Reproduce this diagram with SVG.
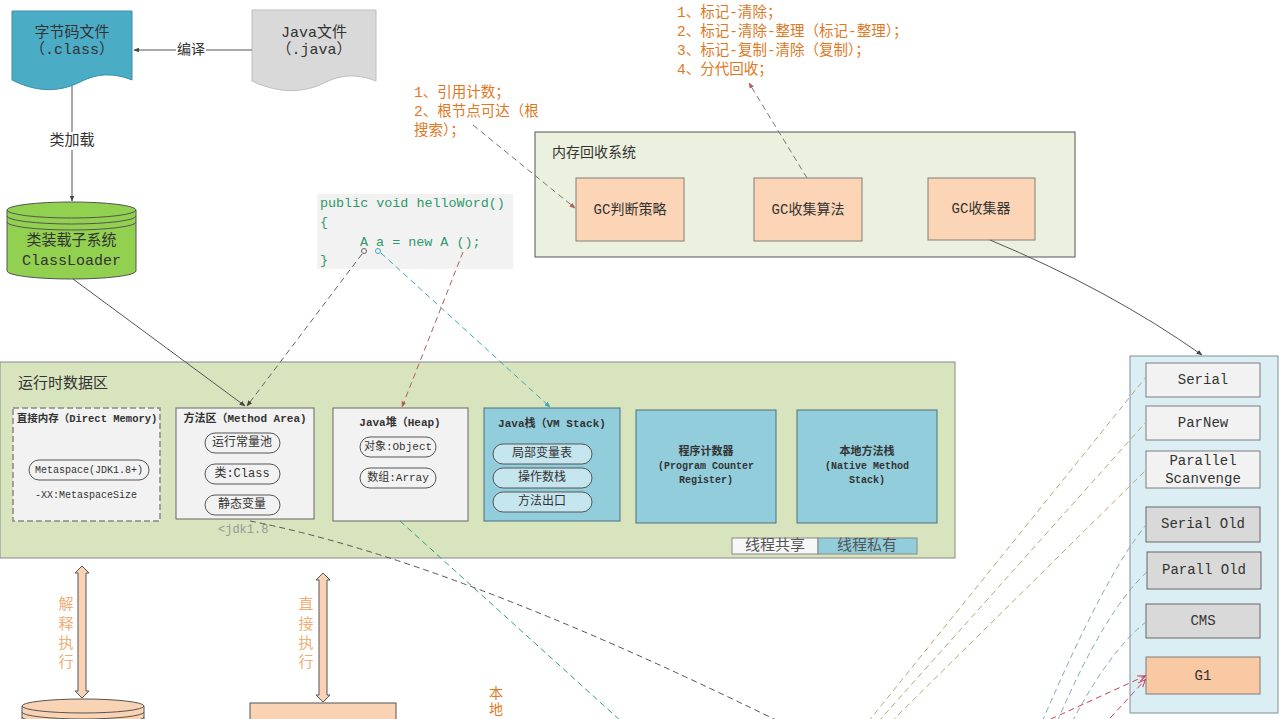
<svg xmlns="http://www.w3.org/2000/svg" width="1280" height="719" viewBox="0 0 1280 719">
<defs>
<style>
text{font-family:"Liberation Mono","Noto Sans CJK SC",monospace;fill:#333;dominant-baseline:central;text-anchor:middle;font-size:14px}
.l{text-anchor:start}
.o{fill:#e0781e;font-size:14.5px}
.lo{fill:#efad78;font-size:15px}
.b{font-weight:bold}
.s11{font-size:11px}
.s10{font-size:10px}
.s12{font-size:12px}
.code{fill:#2e9a6a;font-size:13.4px}
.line{fill:none;stroke:#555;stroke-width:1}
.dash{fill:none;stroke-width:1;stroke-dasharray:6 4}
.pill{fill:#f2f2f2;stroke:#555;stroke-width:1}
.bpill{fill:#c6e6ef;stroke:#555;stroke-width:1}
.gc{fill:#fbd5b5;stroke:#7f7f7f}
.box{fill:#f2f2f2;stroke:#666}
.blue{fill:#92cddc;stroke:#4f6f7f}
.col1{fill:#f2f2f2;stroke:#7f7f7f}
.col2{fill:#d9d9d9;stroke:#666}
.col3{fill:#f8c9a3;stroke:#7f7f7f}
.peach{fill:#f9d3b3;stroke:#555}
</style>
<marker id="ad" viewBox="0 0 10 10" refX="9" refY="5" markerWidth="6" markerHeight="6" orient="auto"><path d="M0,1 L10,5 L0,9 z" fill="#444"/></marker>
<marker id="at" viewBox="0 0 10 10" refX="9" refY="5" markerWidth="6" markerHeight="6" orient="auto"><path d="M0,1 L10,5 L0,9 z" fill="#3aa6c0"/></marker>
<marker id="ar" viewBox="0 0 10 10" refX="9" refY="5" markerWidth="6" markerHeight="6" orient="auto"><path d="M0,1 L10,5 L0,9 z" fill="#b0605a"/></marker>
<marker id="arr" viewBox="0 0 10 10" refX="9" refY="5" markerWidth="8" markerHeight="8" orient="auto"><path d="M0,1 L10,5 L0,9" fill="none" stroke="#c8405a" stroke-width="1.2"/></marker>
</defs>
<rect width="1280" height="719" fill="#ffffff"/>

<g id="class-file">
<path d="M12,11 H132 V80 C112,72 96,74 80,82 C62,91 40,94 12,80 Z" fill="#4bacc6" stroke="#3a8fa8"/>
<text x="72" y="33" style="font-size:15px">字节码文件</text>
<text x="72" y="50" style="font-size:15px">（.class）</text>
</g>

<g id="java-file">
<path d="M252,10 H376 V81 C356,73 340,75 324,83 C306,92 282,95 252,81 Z" fill="#d9d9d9" stroke="#bfbfbf"/>
<text x="314" y="33" style="font-size:15px">Java文件</text>
<text x="314" y="50" style="font-size:15px">（.java）</text>
</g>

<g id="classloader">
<path d="M7,210 V271 A64.5,8 0 0 0 136,271 V210" fill="#92d050" stroke="#555"/>
<ellipse cx="71.5" cy="210" rx="64.5" ry="8" fill="#92d050" stroke="#555"/>
<path d="M7,216 A64.5,8 0 0 0 136,216 M7,222 A64.5,8 0 0 0 136,222" fill="none" stroke="#555"/>
<text x="71.5" y="241" style="font-size:15px">类装载子系统</text>
<text x="71.5" y="261" style="font-size:15px">ClassLoader</text>
</g>

<g id="code">
<rect x="317" y="194" width="196" height="75" fill="#f2f2f2"/>
<text class="code l" x="320" y="203">public void helloWord()</text>
<text class="code l" x="320" y="222">{</text>
<text class="code l" x="360" y="242">A a = new A ();</text>
<text class="code l" x="320" y="260">}</text>
</g>

<g id="notes-judge">
<text class="o l" x="414" y="93">1、引用计数；</text>
<text class="o l" x="414" y="112">2、根节点可达（根</text>
<text class="o l" x="414" y="131">搜索）；</text>
</g>

<g id="notes-algo">
<text class="o l" x="677" y="13">1、标记-清除；</text>
<text class="o l" x="677" y="32">2、标记-清除-整理（标记-整理）；</text>
<text class="o l" x="677" y="51">3、标记-复制-清除（复制）；</text>
<text class="o l" x="677" y="70">4、分代回收；</text>
</g>

<g id="gc-system">
<rect x="535" y="132" width="540" height="125" fill="#ebf1de" stroke="#555"/>
<text class="l" x="552" y="153">内存回收系统</text>
<g id="gc-judge"><rect class="gc" x="576" y="178" width="108" height="63"/><text x="630" y="210">GC判断策略</text></g>
<g id="gc-algo"><rect class="gc" x="754" y="178" width="108" height="63"/><text x="808" y="210">GC收集算法</text></g>
<g id="gc-collector"><rect class="gc" x="928" y="178" width="107" height="62"/><text x="981" y="209">GC收集器</text></g>
</g>

<g id="runtime">
<rect x="0" y="362" width="955" height="196" fill="#d7e4bd" stroke="#888"/>
<text class="l" x="18" y="384" style="font-size:15px">运行时数据区</text>
<g id="direct-memory">
<rect x="13" y="408" width="147" height="113" fill="#f2f2f2" stroke="#888" stroke-dasharray="6 3" stroke-width="1.5"/>
<text class="b" x="87" y="419" style="font-size:10.5px">直接内存（Direct Memory)</text>
<rect class="pill" x="29" y="460" width="120" height="20" rx="10"/>
<text class="s10" x="89" y="470">Metaspace(JDK1.8+)</text>
<text class="s10 l" x="35" y="495">-XX:MetaspaceSize</text>
</g>
<g id="method-area">
<rect class="box" x="176" y="408" width="138" height="111"/>
<text class="b s11" x="245" y="419">方法区（Method Area)</text>
<rect class="pill" x="205" y="433" width="75" height="20" rx="10"/><text class="s12" x="242" y="443">运行常量池</text>
<rect class="pill" x="205" y="464" width="75" height="20" rx="10"/><text class="s12" x="242" y="474">类:Class</text>
<rect class="pill" x="205" y="495" width="75" height="20" rx="10"/><text class="s12" x="242" y="505">静态变量</text>
<text class="l" x="218" y="530" style="font-size:12px;fill:#999">&lt;jdk1.8</text>
</g>
<g id="heap">
<rect class="box" x="333" y="408" width="135" height="113"/>
<text class="b s11" x="400" y="423">Java堆（Heap)</text>
<rect class="pill" x="360" y="437" width="76" height="20" rx="10"/><text class="s11" x="398" y="447">对象:Object</text>
<rect class="pill" x="360" y="468" width="76" height="20" rx="10"/><text class="s11" x="398" y="478">数组:Array</text>
</g>
<g id="vm-stack">
<rect class="blue" x="484" y="408" width="136" height="113"/>
<text class="b s11" x="552" y="424">Java栈（VM Stack)</text>
<rect class="bpill" x="493" y="444" width="99" height="20" rx="10"/><text class="s12" x="542" y="454">局部变量表</text>
<rect class="bpill" x="493" y="468" width="99" height="20" rx="10"/><text class="s12" x="542" y="478">操作数栈</text>
<rect class="bpill" x="493" y="492" width="99" height="20" rx="10"/><text class="s12" x="542" y="502">方法出口</text>
</g>
<g id="pc-register">
<rect class="blue" x="636" y="410" width="140" height="113"/>
<text class="b s11" x="706" y="452">程序计数器</text>
<text class="b s10" x="706" y="466">(Program Counter</text>
<text class="b s10" x="706" y="480">Register)</text>
</g>
<g id="native-stack">
<rect class="blue" x="797" y="410" width="140" height="113"/>
<text class="b s11" x="867" y="452">本地方法栈</text>
<text class="b s10" x="867" y="466">(Native Method</text>
<text class="b s10" x="867" y="480">Stack)</text>
</g>
<g id="legend">
<rect x="732" y="538" width="86" height="16" fill="#f7f7f7" stroke="#888"/>
<rect x="818" y="538" width="99" height="16" fill="#92cddc" stroke="#888"/>
<text x="775" y="546" style="font-size:15px;fill:#555">线程共享</text>
<text x="867" y="546" style="font-size:15px;fill:#555">线程私有</text>
</g>
</g>

<g id="collectors">
<rect x="1130" y="356" width="148" height="357" fill="#dbeef4" stroke="#7f8f99"/>
<g id="serial"><rect class="col1" x="1146" y="363" width="114" height="34"/><text x="1203" y="380">Serial</text></g>
<g id="parnew"><rect class="col1" x="1146" y="406" width="114" height="34"/><text x="1203" y="423">ParNew</text></g>
<g id="parallel-scavenge"><rect class="col1" x="1146" y="451" width="114" height="37"/><text x="1203" y="461">Parallel</text><text x="1203" y="479">Scanvenge</text></g>
<g id="serial-old"><rect class="col2" x="1146" y="507" width="114" height="35"/><text x="1203" y="524">Serial Old</text></g>
<g id="parall-old"><rect class="col2" x="1147" y="552" width="114" height="37"/><text x="1204" y="570">Parall Old</text></g>
<g id="cms"><rect class="col2" x="1146" y="604" width="114" height="34"/><text x="1203" y="621">CMS</text></g>
<g id="g1"><rect class="col3" x="1146" y="657" width="114" height="37"/><text x="1203" y="676">G1</text></g>
</g>

<g id="bottom-nodes">
<g id="interpreter">
<path d="M22,706 V730 H144 V706" fill="#f9d3b3" stroke="#555"/>
<ellipse cx="83" cy="706" rx="61" ry="7" fill="#f9d3b3" stroke="#555"/>
<path d="M22,712 A61,7 0 0 0 144,712 M22,717 A61,7 0 0 0 144,717" fill="none" stroke="#555"/>
</g>
<g id="native-box"><rect class="peach" x="250" y="703" width="146" height="30"/></g>
<g id="native-label"><text class="o" x="496" y="694" style="font-size:14px">本</text><text class="o" x="496" y="710" style="font-size:14px">地</text></g>
</g>

<g id="connectors">
<line class="line" x1="252" y1="50" x2="134" y2="50" marker-end="url(#ad)"/>
<rect x="176" y="41" width="30" height="18" fill="#fff"/>
<text x="191" y="50">编译</text>
<line class="line" x1="72" y1="86" x2="72" y2="201" marker-end="url(#ad)"/>
<rect x="48" y="132" width="48" height="18" fill="#fff"/>
<text x="72" y="141" style="font-size:15px">类加载</text>
<line class="line" x1="73" y1="279" x2="245" y2="406" marker-end="url(#ad)"/>
<circle cx="364" cy="251" r="2.5" fill="none" stroke="#666"/>
<line class="dash" stroke="#666" x1="362" y1="254" x2="247" y2="406" marker-end="url(#ad)"/>
<circle cx="378" cy="251" r="2.5" fill="none" stroke="#3aa6c0"/>
<line class="dash" stroke="#3aa6c0" x1="381" y1="253" x2="550" y2="407" marker-end="url(#at)"/>
<line class="dash" stroke="#b0605a" x1="463" y1="252" x2="402" y2="407" marker-end="url(#ar)"/>
<line class="dash" stroke="#777" stroke-dasharray="3 3" x1="473" y1="125" x2="575" y2="208" marker-end="url(#ar)"/>
<line class="dash" stroke="#777" stroke-dasharray="3 3" x1="807" y1="178" x2="749" y2="83" marker-end="url(#ar)"/>
<path class="line" stroke="#666" d="M990,240 Q1110,290 1202,355" marker-end="url(#ad)"/>
<path class="dash" stroke="#555" d="M250,521 Q450,560 780,722"/>
<line class="dash" stroke="#2e9e84" x1="400" y1="521" x2="622" y2="722"/>
<line class="dash" stroke="#b9a47e" x1="868" y1="722" x2="1146" y2="377"/>
<line class="dash" stroke="#b9a47e" x1="878" y1="722" x2="1146" y2="422"/>
<line class="dash" stroke="#b9a47e" x1="891" y1="722" x2="1146" y2="470"/>
<path class="dash" stroke="#7fa7b8" d="M1042,722 Q1105,575 1146,525"/>
<path class="dash" stroke="#7fa7b8" d="M1057,722 Q1105,610 1147,572"/>
<path class="dash" stroke="#7fa7b8" d="M1072,722 Q1110,650 1146,622"/>
<line class="dash" stroke="#c8405a" x1="1005" y1="740" x2="1145" y2="676" marker-end="url(#arr)"/>
<line class="dash" stroke="#c8405a" x1="1090" y1="740" x2="1145" y2="680" marker-end="url(#arr)"/>
<g id="exec-arrows">
<path d="M82,566 L89,573 H86 V691 H89 L82,698 L75,691 H78 V573 H75 Z" fill="#f9d3b3" stroke="#555"/>
<path d="M323,573 L330,580 H327 V695 H330 L323,702 L316,695 H319 V580 H316 Z" fill="#f9d3b3" stroke="#555"/>
<text class="lo" x="66" y="605">解</text><text class="lo" x="66" y="625">释</text><text class="lo" x="66" y="644">执</text><text class="lo" x="66" y="663">行</text>
<text class="lo" x="306" y="605">直</text><text class="lo" x="306" y="625">接</text><text class="lo" x="306" y="644">执</text><text class="lo" x="306" y="663">行</text>
</g>
</g>
</svg>
